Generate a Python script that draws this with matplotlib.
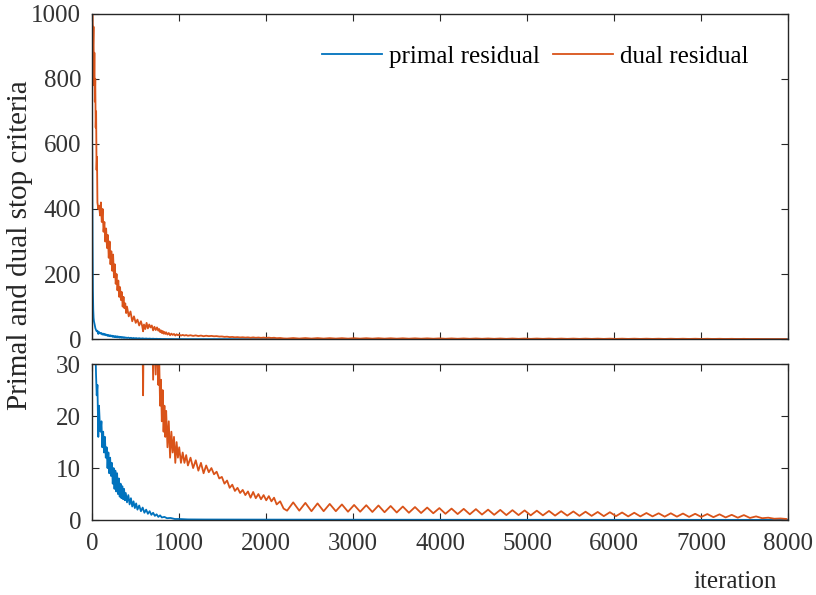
import matplotlib
matplotlib.use("Agg")
import matplotlib.pyplot as plt

plt.rcParams['font.family'] = ['Liberation Serif', 'DejaVu Serif']

# primal residual
primal_it = [0, 4, 8, 12, 16, 20, 28, 36, 44, 52, 60, 70, 78, 86, 96, 106, 116, 126, 136, 146,
             156, 166, 176, 186, 196, 206, 216, 226, 236, 246, 256, 266, 276, 286, 296, 306, 316,
             326, 336, 346, 356, 366, 376, 386, 400, 415, 430, 445, 460, 475, 490, 505, 520, 540,
             560, 580, 600, 620, 640, 660, 680, 700, 720, 740, 760, 780, 800, 830, 860, 900, 950,
             1000, 1100, 1300, 2000, 4000, 6000, 8000]
primal_val = [590, 300, 150, 90, 65, 55, 45, 34, 28, 24, 26, 16, 22, 19, 17, 19, 14, 17, 13, 16,
              12, 14, 10, 13, 9, 12, 8.5, 11, 7, 10, 6, 9.5, 5.5, 9, 5, 8, 4.5,
              7, 4.2, 6.5, 4, 6, 3.8, 5.2, 3.4, 4.8, 3, 4.2, 2.6, 3.6, 2.3, 3.2, 2, 2.8,
              1.7, 2.4, 1.4, 2.0, 1.2, 1.7, 1.0, 1.4, 0.8, 1.1, 0.6, 0.9, 0.5, 0.6, 0.35, 0.4, 0.2,
              0.2, 0.12, 0.1, 0.08, 0.05, 0.04, 0.03]

# dual residual
dual_it = [0, 5, 10, 15, 20, 25, 30, 35, 40, 45, 50, 55, 60, 65, 70, 80, 90, 100, 110, 120,
           130, 140, 150, 160, 170, 180, 190, 200, 210, 220, 230, 240, 250, 260, 270, 280, 290,
           300, 310, 320, 330, 340, 350, 360, 370, 380, 390, 400, 420, 440, 460, 480, 500, 520,
           540, 560, 575, 585, 595, 610, 625, 640, 655, 670, 685, 700, 715, 730, 745, 760, 770,
           780, 790, 800, 810, 820, 830, 840, 850, 865, 880, 895, 910, 925, 940, 955, 970, 985,
           1000, 1020, 1040, 1060, 1080, 1100, 1130, 1160, 1190, 1220, 1250, 1280, 1310, 1340,
           1370, 1400, 1430, 1460, 1490, 1520, 1550, 1580, 1610, 1640, 1670, 1700, 1730, 1760,
           1790, 1820, 1850, 1880, 1910, 1940, 1970, 2000, 2030, 2060, 2090, 2120, 2160, 2200,
           2240, 2310, 2380, 2450, 2520, 2590, 2660, 2730, 2800, 2870, 2940, 3010, 3080, 3150,
           3220, 3290, 3360, 3430, 3500, 3570, 3640, 3710, 3780, 3850, 3920, 3990, 4060, 4130,
           4200, 4270, 4340, 4410, 4480, 4550, 4620, 4690, 4760, 4830, 4900, 4970, 5040, 5110,
           5180, 5250, 5320, 5390, 5460, 5530, 5600, 5670, 5740, 5810, 5880, 5950, 6020, 6090,
           6160, 6230, 6300, 6370, 6440, 6510, 6580, 6650, 6720, 6790, 6860, 6930, 7000, 7070,
           7140, 7210, 7280, 7350, 7420, 7490, 7560, 7630, 7700, 7770, 7840, 7910, 7980]
dual_val = [1050, 1000, 900, 960, 780, 880, 730, 800, 650, 700, 520, 560, 420, 410, 400, 410, 380,
            420, 360, 400, 330, 360, 300, 340, 280, 320, 250, 300, 230, 270, 210, 260, 190, 230,
            170, 200, 150, 180, 130, 160, 120, 145, 100, 130, 95, 110, 80, 100, 70, 85, 55, 70,
            50, 60, 42, 55, 40, 24, 45, 31, 50, 33, 45, 36, 42, 27, 38, 28, 36, 26, 31,
            22, 27, 19, 25, 17, 22, 16, 21, 14, 19, 12, 17, 13, 16, 11, 15, 12,
            14, 11, 13, 11, 12.5, 10.5, 12, 10, 11.5, 9.5, 11, 9, 10.5, 9.2,
            10, 8.8, 9.3, 8, 8.3, 7, 7.6, 6.2, 6.8, 5.6, 6.2, 5.2, 5.8, 4.8,
            5.5, 4.3, 5.4, 4.2, 5.0, 4.0, 4.8, 3.8, 4.6, 3.6, 4.3, 3.0, 3.6, 2.2,
            1.8, 3.4, 1.8, 3.3, 1.7, 3.2, 1.7, 3.1, 1.7, 3.0, 1.6, 2.9, 1.6, 2.85,
            1.55, 2.8, 1.5, 2.7, 1.45, 2.6, 1.4, 2.5, 1.35, 2.4, 1.3, 2.3, 1.2, 2.2,
            1.15, 2.15, 1.1, 2.1, 1.05, 2.0, 1.0, 1.95, 0.95, 1.9, 0.95, 1.85, 0.9, 1.8,
            0.9, 1.75, 0.85, 1.7, 0.85, 1.65, 0.8, 1.6, 0.8, 1.55, 0.75, 1.5, 0.75, 1.45,
            0.7, 1.4, 0.7, 1.35, 0.7, 1.3, 0.65, 1.3, 0.65, 1.25, 0.6, 1.2, 0.6, 1.15,
            0.55, 1.1, 0.5, 1.0, 0.45, 0.95, 0.4, 0.7, 0.35, 0.45, 0.25, 0.3, 0.2]

blue = '#0072BD'
orange = '#D95319'

fig = plt.figure(figsize=(8.16, 5.95), dpi=100)
ax1 = fig.add_axes([0.113, 0.430, 0.853, 0.547])
ax2 = fig.add_axes([0.113, 0.126, 0.853, 0.262])

for ax, top in [(ax1, 1000), (ax2, 30)]:
    ax.plot(primal_it, primal_val, color=blue, lw=1.3, label='primal residual')
    ax.plot(dual_it, dual_val, color=orange, lw=1.3, label='dual residual')
    ax.set_xlim(0, 8000)
    ax.set_ylim(0, top)
    ax.tick_params(direction='in', top=True, right=True, labelsize=18, length=5,
                   color='#262626', labelcolor='#333333')
    ax.tick_params(axis='y', pad=8)
    ax.tick_params(axis='x', pad=9)
    for s in ax.spines.values():
        s.set_color('#262626')
        s.set_linewidth(1.0)

ax1.set_yticks([0, 200, 400, 600, 800, 1000])
ax1.set_xticks(range(0, 8001, 1000))
ax1.set_xticklabels([])
ax2.set_yticks([0, 10, 20, 30])
ax2.set_xticks(range(0, 8001, 1000))

ax1.legend(loc='center right', ncol=2, frameon=False, fontsize=18, handlelength=2.4,
           handletextpad=0.28, columnspacing=0.52, borderpad=0, borderaxespad=0,
           bbox_to_anchor=(0.9425, 0.868))

fig.text(0.0245, 0.588, 'Primal and dual stop criteria', rotation=90, fontsize=21,
         va='center', ha='center', color='#262626')
fig.text(0.952, 0.012, 'iteration', fontsize=18, ha='right', va='baseline', color='#262626')

fig.savefig('out.png', dpi=100)
